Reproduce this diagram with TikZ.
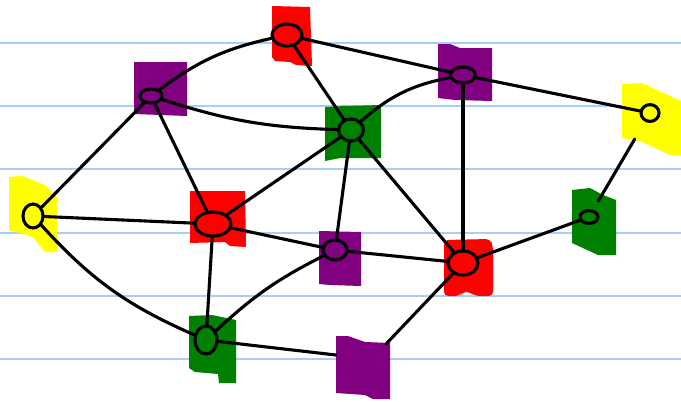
\documentclass[tikz,border=0pt]{standalone}
\usepackage{xcolor}
\usepackage{tikz}
\usetikzlibrary{shapes.geometric}

\definecolor{flagred}{RGB}{255,0,0}
\definecolor{flagpurple}{RGB}{128,0,128}
\definecolor{flaggreen}{RGB}{0,128,0}
\definecolor{flagyellow}{RGB}{255,255,0}
\definecolor{ruleblue}{RGB}{166,206,250}

\begin{document}
\begin{tikzpicture}[x=0.025cm, y=-0.025cm,
  rule/.style={ruleblue, line width=1.5pt},
  flag/.style={fill=#1, draw=none},
  vtx/.style 2 args={
    draw, ellipse, line width=2.2pt, inner sep=0pt,
    minimum width=#1, minimum height=#2},
  link/.style={line width=2.2pt, line cap=round}]

\useasboundingbox (0,0) rectangle (681,401);

% Ruled paper
\foreach \k in {0,...,5}
  \draw[rule] (0,43+63.2*\k) -- (681,43+63.2*\k);

% Coloured flags behind the vertices
\fill[flag=flagred]    (272,6) -- (310,7) -- (312,66) -- (296,65) -- (290,62)
  -- (275,61) -- (272,57) -- cycle;
\fill[flag=flagpurple] (134,62) -- (187,62) -- (187,116) -- (134,114) -- cycle;
\fill[flag=flagpurple] (438,44) -- (450,44) -- (460,48) -- (492,48)
  -- (492,101) -- (455,100) -- (438,98) -- cycle;
\fill[flag=flagyellow] (622,84) -- (642,83) -- (681,101) -- (681,155)
  -- (670,155) -- (640,141) -- (622,138) -- cycle;
\fill[flag=flaggreen]  (325,107) -- (345,106) -- (381,105) -- (381,158)
  -- (340,158) -- (325,161) -- cycle;
\fill[flag=flagyellow] (9,177) -- (22,176) -- (45,185) -- (57,197)
  -- (57,252) -- (45,252) -- (33,237) -- (9,230) -- cycle;
\fill[flag=flagred]    (190,191) -- (245,191) -- (246,247) -- (230,246)
  -- (225,242) -- (190,243) -- cycle;
\fill[flag=flagpurple] (319,231) -- (361,232) -- (361,286) -- (330,285)
  -- (319,284) -- cycle;
\fill[flag=flagred, rounded corners=3pt] (444,240) -- (490,239) -- (493,246)
  -- (493,296) -- (475,296) -- (470,292) -- (462,292) -- (460,296)
  -- (444,296) -- cycle;
\fill[flag=flaggreen]  (572,190) -- (590,188) -- (603,195) -- (616,200)
  -- (616,255) -- (598,255) -- (572,243) -- cycle;
\fill[flag=flaggreen]  (189,316) -- (212,315) -- (236,320) -- (236,383)
  -- (219,383) -- (218,374) -- (195,372) -- (189,368) -- cycle;
\fill[flag=flagpurple] (336,336) -- (348,336) -- (365,342) -- (390,343)
  -- (390,399) -- (373,399) -- (365,395) -- (336,393) -- cycle;

% Vertices
\node[vtx={0.75cm}{0.55cm}] (rT) at (287,35)  {};
\node[vtx={0.55cm}{0.35cm}] (pL) at (151,96)  {};
\node[vtx={0.62cm}{0.40cm}] (pR) at (463,75)  {};
\node[vtx={0.45cm}{0.42cm}] (yR) at (650,113) {};
\node[vtx={0.62cm}{0.55cm}] (gM) at (351,130) {};
\node[vtx={0.50cm}{0.60cm}] (yL) at (33,216)  {};
\node[vtx={0.90cm}{0.60cm}] (rM) at (213,224) {};
\node[vtx={0.60cm}{0.50cm}] (pM) at (335,250) {};
\node[vtx={0.75cm}{0.60cm}] (rR) at (463,263) {};
\node[vtx={0.45cm}{0.32cm}] (gR) at (589,217) {};
\node[vtx={0.55cm}{0.70cm}] (gB) at (206,340) {};

% Free ends on the last purple flag
\coordinate (pBtop)  at (386,344);
\coordinate (pBleft) at (336,355);

% Edges
\draw[link] (pL) to[bend left=12] (rT);
\draw[link] (rT) -- (pR);
\draw[link] (rT) -- (gM);
\draw[link] (pL) to[bend right=8] (gM);
\draw[link] (pL) -- (yL);
\draw[link] (pL) -- (rM);
\draw[link] (pR) to[bend right=15] (gM);
\draw[link] (pR) -- (yR);
\draw[link] (pR) -- (rR);
\draw[link] (gM) -- (rM);
\draw[link] (gM) -- (pM);
\draw[link] (gM) -- (rR);
\draw[link] (yL) -- (rM);
\draw[link] (yL) to[bend right=12] (gB);
\draw[link] (rM) -- (pM);
\draw[link] (rM) -- (gB);
\draw[link] (pM) -- (rR);
\draw[link] (pM) to[bend right=8] (gB);
\draw[link] (rR) -- (gR);
\draw[link] (rR) -- (pBtop);
\draw[link] (gB) -- (pBleft);
\draw[link, shorten <=0.25cm, shorten >=0.5cm] (gR) -- (yR);

\end{tikzpicture}
\end{document}
